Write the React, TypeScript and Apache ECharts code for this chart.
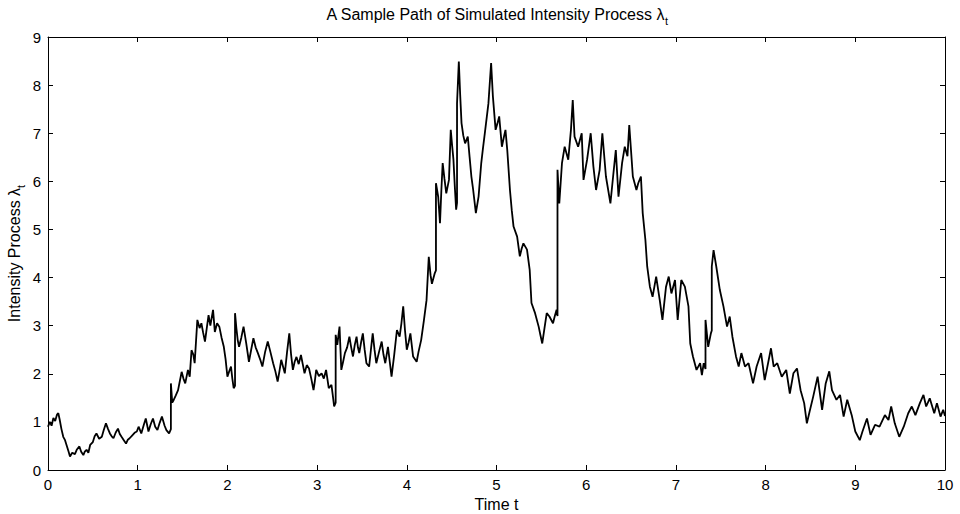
import React, { useEffect, useRef } from "react";
import * as echarts from "echarts";

// Sample path of the simulated intensity process (time t, lambda_t)
const pathEarly: number[][] = [
  [0.00, 0.90], [0.02, 1.00], [0.04, 0.92], [0.06, 1.08], [0.08, 1.02], [0.10, 1.15], [0.115, 1.18],
  [0.13, 1.05], [0.15, 0.85], [0.17, 0.69], [0.19, 0.62], [0.21, 0.50], [0.23, 0.38], [0.245, 0.28],
  [0.27, 0.36], [0.30, 0.33], [0.32, 0.42], [0.35, 0.49], [0.37, 0.38], [0.394, 0.31], [0.41, 0.38],
  [0.43, 0.42], [0.45, 0.36], [0.47, 0.52], [0.50, 0.58], [0.52, 0.70], [0.54, 0.76], [0.57, 0.65],
  [0.60, 0.69], [0.62, 0.82], [0.646, 0.97], [0.67, 0.85], [0.69, 0.76], [0.71, 0.70], [0.73, 0.66],
  [0.755, 0.78], [0.78, 0.86], [0.80, 0.75], [0.82, 0.69], [0.845, 0.62], [0.87, 0.55], [0.89, 0.63],
  [0.91, 0.66], [0.94, 0.72], [0.97, 0.78], [0.99, 0.80], [1.01, 0.90], [1.04, 0.76], [1.07, 0.95],
  [1.09, 1.07], [1.12, 0.80], [1.145, 0.95], [1.17, 1.07], [1.195, 0.90], [1.22, 0.83], [1.245, 0.98],
  [1.27, 1.11], [1.30, 0.92], [1.32, 0.83], [1.35, 0.76], [1.37, 0.85], [1.37, 1.80], [1.385, 1.40],
  [1.40, 1.45], [1.425, 1.55], [1.45, 1.66], [1.47, 1.85], [1.49, 2.04], [1.51, 1.90], [1.53, 1.80],
  [1.56, 2.08], [1.58, 1.94], [1.60, 2.49], [1.62, 2.40], [1.635, 2.22], [1.665, 3.12], [1.69, 2.95],
  [1.71, 3.05], [1.73, 2.85], [1.75, 2.67], [1.77, 2.95], [1.79, 3.22], [1.81, 3.00], [1.84, 3.33],
  [1.86, 2.87], [1.885, 3.05], [1.91, 2.98], [1.935, 2.75], [1.96, 2.56], [1.98, 2.30], [2.00, 1.94],
];

const pathMiddle: number[][] = [
  [2.02, 2.05], [2.04, 2.15], [2.055, 1.90], [2.07, 1.70], [2.085, 1.75], [2.085, 3.26], [2.10, 2.95],
  [2.115, 2.70], [2.13, 2.56], [2.155, 2.75], [2.18, 2.98], [2.21, 2.63], [2.24, 2.25], [2.265, 2.50],
  [2.29, 2.74], [2.315, 2.55], [2.34, 2.43], [2.365, 2.30], [2.39, 2.15], [2.42, 2.45], [2.45, 2.67],
  [2.48, 2.45], [2.51, 2.22], [2.535, 2.05], [2.56, 1.84], [2.58, 2.05], [2.60, 2.29], [2.62, 2.15],
  [2.64, 2.01], [2.665, 2.45], [2.69, 2.84], [2.71, 2.40], [2.73, 2.08], [2.75, 2.25], [2.77, 2.35],
  [2.795, 2.20], [2.82, 2.39], [2.84, 2.20], [2.86, 2.01], [2.885, 2.18], [2.91, 2.11], [2.935, 1.90],
  [2.96, 1.66], [2.975, 1.85], [2.99, 2.08], [3.02, 1.95], [3.05, 2.01], [3.075, 1.90], [3.10, 2.08],
  [3.13, 1.70], [3.16, 1.77], [3.175, 1.55], [3.19, 1.32], [3.207, 1.40], [3.207, 2.81], [3.225, 2.60],
  [3.25, 2.98], [3.27, 2.08], [3.29, 2.25], [3.31, 2.43], [3.335, 2.55], [3.36, 2.77], [3.38, 2.55],
  [3.40, 2.36], [3.42, 2.60], [3.44, 2.77], [3.455, 2.55], [3.47, 2.43], [3.49, 2.65], [3.51, 2.84],
  [3.53, 2.50], [3.55, 2.22], [3.58, 2.15], [3.60, 2.50], [3.62, 2.84], [3.64, 2.50], [3.66, 2.22],
  [3.69, 2.45], [3.72, 2.67], [3.74, 2.40], [3.76, 2.22], [3.79, 2.56], [3.81, 2.25], [3.83, 1.94],
  [3.86, 2.40], [3.89, 2.91], [3.92, 2.77], [3.94, 3.05], [3.96, 3.40], [3.98, 2.90], [4.00, 2.50],
  [4.02, 2.65], [4.04, 2.84], [4.07, 2.36], [4.11, 2.25], [4.13, 2.45], [4.16, 2.70], [4.19, 3.10],
  [4.22, 3.53], [4.245, 4.43], [4.265, 4.05], [4.28, 3.87], [4.31, 4.08], [4.325, 4.15],
];

const pathPeak: number[][] = [
  [4.325, 5.96], [4.35, 5.68], [4.37, 5.13], [4.385, 5.80], [4.40, 6.38], [4.42, 6.05], [4.44, 5.75],
  [4.47, 6.03], [4.49, 7.07], [4.505, 6.75], [4.52, 6.45], [4.535, 5.90], [4.55, 5.41], [4.56, 5.55],
  [4.56, 7.62], [4.58, 8.49], [4.595, 7.80], [4.61, 7.21], [4.63, 6.95], [4.65, 6.79], [4.68, 6.93],
  [4.70, 6.51], [4.72, 6.10], [4.74, 5.82], [4.77, 5.34], [4.80, 5.68], [4.83, 6.38], [4.85, 6.70],
  [4.87, 7.00], [4.91, 7.62], [4.94, 8.46], [4.96, 7.76], [4.99, 7.07], [5.01, 7.20], [5.03, 7.35],
  [5.06, 6.72], [5.08, 6.90], [5.10, 7.07], [5.12, 6.65], [5.15, 5.82], [5.17, 5.40], [5.19, 5.06],
  [5.23, 4.85], [5.26, 4.44], [5.28, 4.60], [5.30, 4.71], [5.34, 4.58], [5.37, 4.16], [5.39, 3.47],
  [5.43, 3.26], [5.47, 2.98], [5.49, 2.80], [5.51, 2.63], [5.535, 2.95], [5.56, 3.26], [5.59, 3.19],
  [5.63, 3.05], [5.65, 3.20], [5.67, 3.33], [5.68, 3.20], [5.68, 6.24], [5.70, 5.54], [5.73, 6.38],
  [5.76, 6.72], [5.80, 6.45], [5.83, 7.07], [5.85, 7.69], [5.87, 6.93], [5.91, 6.72], [5.95, 7.00],
  [5.97, 6.03], [6.01, 6.45], [6.05, 7.00], [6.08, 6.31], [6.11, 5.82], [6.15, 6.24], [6.18, 7.00],
  [6.22, 6.10], [6.27, 5.54], [6.30, 6.10], [6.33, 6.65], [6.36, 5.68], [6.40, 6.38], [6.43, 6.72],
  [6.46, 6.52], [6.48, 7.17], [6.52, 6.10], [6.56, 5.82], [6.58, 5.96], [6.61, 6.10], [6.63, 5.34],
  [6.66, 4.78], [6.68, 4.23], [6.71, 3.81],
];

const pathLate: number[][] = [
  [6.74, 3.60], [6.78, 4.02], [6.82, 3.53], [6.85, 3.12], [6.89, 3.81], [6.92, 4.02], [6.95, 3.67],
  [6.99, 3.95], [7.02, 3.12], [7.06, 3.95], [7.10, 3.81], [7.14, 3.40], [7.16, 2.63], [7.19, 2.36],
  [7.23, 2.08], [7.27, 2.22], [7.29, 1.97], [7.31, 2.22], [7.33, 2.10], [7.33, 3.12], [7.36, 2.56],
  [7.39, 2.84], [7.40, 2.90], [7.40, 4.23], [7.42, 4.57], [7.45, 4.23], [7.49, 3.74], [7.53, 3.40],
  [7.57, 2.98], [7.60, 3.19], [7.63, 2.77], [7.67, 2.36], [7.70, 2.15], [7.73, 2.43], [7.77, 2.15],
  [7.81, 2.22], [7.86, 1.80], [7.90, 2.15], [7.95, 2.43], [7.99, 1.87], [8.02, 2.15], [8.06, 2.53],
  [8.09, 2.15], [8.13, 2.22], [8.18, 1.94], [8.23, 2.08], [8.27, 1.59], [8.31, 2.01], [8.35, 2.11],
  [8.39, 1.66], [8.43, 1.39], [8.46, 0.97], [8.49, 1.21], [8.53, 1.52], [8.58, 1.94], [8.63, 1.25],
  [8.67, 1.80], [8.71, 2.05], [8.74, 1.66], [8.79, 1.46], [8.83, 1.56], [8.87, 1.11], [8.91, 1.46],
  [8.96, 1.14], [9.00, 0.80], [9.05, 0.62], [9.08, 0.80], [9.13, 1.07], [9.17, 0.73], [9.22, 0.94],
  [9.27, 0.90], [9.33, 1.14], [9.37, 1.04], [9.40, 1.32], [9.44, 0.97], [9.49, 0.69], [9.54, 0.90],
  [9.59, 1.18], [9.63, 1.32], [9.67, 1.14], [9.72, 1.39], [9.76, 1.56], [9.79, 1.32], [9.83, 1.49],
  [9.88, 1.18], [9.91, 1.39], [9.95, 1.11], [9.98, 1.25], [10.00, 1.12],
];

const xTickRange = { min: 0, max: 10, interval: 1 };
const yTickRange = { min: 0, max: 9, interval: 1 };

const FONT = "'Liberation Sans', Arial, Helvetica, sans-serif";

export default function App() {
  const ref = useRef<HTMLDivElement>(null);
  useEffect(() => {
    if (!ref.current) return;
    const chart = echarts.init(ref.current, undefined, { renderer: "svg" });
    const data = [...pathEarly, ...pathMiddle, ...pathPeak, ...pathLate];
    const baseAxisLine = { show: true, onZero: false, lineStyle: { color: "#000", width: 1 } };
    const tick = { show: true, inside: true, length: 5, lineStyle: { color: "#000", width: 1 } };
    const sub = {
      a: { fontSize: 16, fontFamily: FONT, fontWeight: "normal" as const, color: "#000", lineHeight: 18, verticalAlign: "top" as const },
      s: { fontSize: 11, fontFamily: FONT, fontWeight: "normal" as const, color: "#000", lineHeight: 11, padding: [9, 0, 0, 0], verticalAlign: "top" as const },
    };
    chart.setOption({
      animation: false,
      backgroundColor: "#fff",
      title: {
        text: "{a|A Sample Path of Simulated Intensity Process λ}{s|t}",
        left: 492,
        textAlign: "center",
        top: 1,
        textStyle: { fontWeight: "normal", rich: sub },
      },
      grid: { left: 48, right: 15, top: 37, bottom: 44, containLabel: false, outerBoundsMode: "none" },
      xAxis: [
        {
          type: "value",
          ...xTickRange,
          position: "bottom",
          axisLine: baseAxisLine,
          axisTick: tick,
          splitLine: { show: false },
          axisLabel: { color: "#000", fontSize: 15, fontFamily: FONT, margin: 7 },
          name: "Time t",
          nameLocation: "middle",
          nameGap: 26,
          nameTextStyle: { color: "#000", fontSize: 16, fontFamily: FONT },
        },
        {
          type: "value",
          ...xTickRange,
          position: "top",
          axisLine: baseAxisLine,
          axisTick: tick,
          splitLine: { show: false },
          axisLabel: { show: false },
        },
      ],
      yAxis: [
        {
          type: "value",
          ...yTickRange,
          position: "left",
          axisLine: baseAxisLine,
          axisTick: tick,
          splitLine: { show: false },
          axisLabel: { color: "#000", fontSize: 15, fontFamily: FONT, margin: 7 },
          name: "{a|Intensity Process λ}{s|t}",
          nameLocation: "middle",
          nameRotate: 90,
          nameGap: 24,
          nameMoveOverlap: false,
          nameTextStyle: { rich: sub },
        },
        {
          type: "value",
          ...yTickRange,
          position: "right",
          axisLine: baseAxisLine,
          axisTick: tick,
          splitLine: { show: false },
          axisLabel: { show: false },
        },
      ],
      series: [
        {
          type: "line",
          xAxisIndex: 0,
          yAxisIndex: 0,
          data,
          showSymbol: false,
          symbol: "none",
          lineStyle: { color: "#000", width: 1.8 },
        },
      ],
    });
    return () => chart.dispose();
  }, []);
  return (
    <div
      ref={ref}
      style={{ position: "fixed", left: 0, top: 0, width: 960, height: 514, background: "#fff" }}
    />
  );
}
